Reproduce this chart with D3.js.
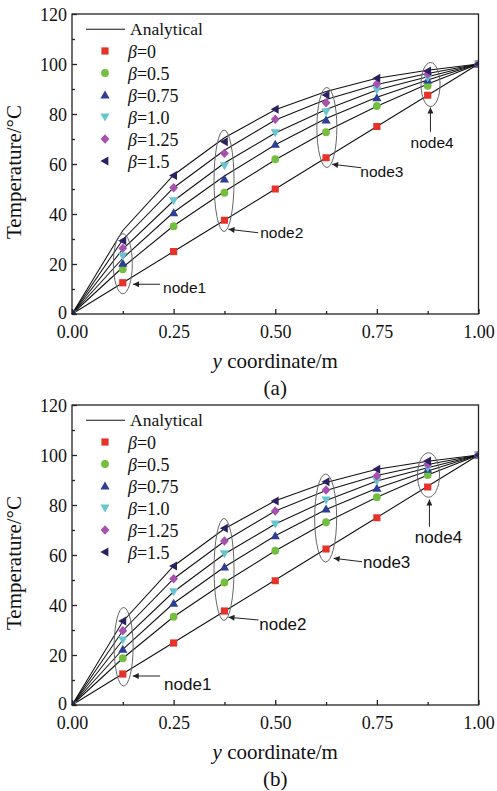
<!DOCTYPE html>
<html>
<head>
<meta charset="utf-8">
<script src="https://cdn.jsdelivr.net/npm/d3@7"></script>
<style>
html,body{margin:0;padding:0;background:#fff;}
svg{display:block;}
</style>
</head>
<body>
<svg id="chart" width="497" height="791"></svg>
<script>
// ---------- data ----------
const xNodes = [0, 0.125, 0.25, 0.375, 0.5, 0.625, 0.75, 0.875, 1.0];
const betaLabels = ["0", "0.5", "0.75", "1.0", "1.25", "1.5"];

// analytical solution (same curves in both panels)
const analyticalBeta0   = [0, 12.5, 25.0, 37.5, 50.0, 62.5, 75.0, 87.5, 100];
const analyticalBeta05  = [0, 18.7, 35.3, 49.0, 61.7, 73.1, 83.1, 92.0, 100];
const analyticalBeta075 = [0, 22.3, 40.7, 55.2, 67.7, 78.2, 86.7, 93.6, 100];
const analyticalBeta10  = [0, 26.0, 45.3, 60.4, 72.4, 81.8, 89.6, 94.9, 100];
const analyticalBeta125 = [0, 29.7, 50.5, 65.5, 77.6, 85.8, 91.8, 96.2, 100];
const analyticalBeta15  = [0, 33.4, 55.6, 70.5, 81.7, 89.0, 94.3, 97.5, 100];

// numerical results, panel (a)
const panelA_Beta0   = [0, 12.5, 25.0, 37.5, 50.0, 62.5, 75.0, 87.5, 100];
const panelA_Beta05  = [0, 17.9, 35.1, 48.5, 61.9, 72.7, 83.2, 91.3, 100];
const panelA_Beta075 = [0, 20.3, 40.5, 54.0, 67.9, 77.6, 86.5, 93.6, 100];
const panelA_Beta10  = [0, 23.2, 45.3, 59.3, 72.5, 80.9, 89.6, 94.5, 100];
const panelA_Beta125 = [0, 26.3, 50.5, 64.3, 77.9, 84.5, 92.0, 96.0, 100];
const panelA_Beta15  = [0, 29.3, 55.4, 68.9, 81.9, 87.6, 94.3, 97.2, 100];

// numerical results, panel (b)
const panelB_Beta0   = [0, 12.4, 24.8, 37.6, 49.7, 62.4, 74.9, 87.2, 100];
const panelB_Beta05  = [0, 18.7, 35.3, 49.0, 61.7, 73.1, 83.1, 92.0, 100];
const panelB_Beta075 = [0, 22.3, 40.7, 55.2, 67.7, 78.4, 86.7, 94.3, 100];
const panelB_Beta10  = [0, 26.0, 45.3, 60.5, 72.4, 82.0, 89.6, 94.9, 100];
const panelB_Beta125 = [0, 29.7, 50.5, 65.6, 77.6, 86.0, 91.6, 96.3, 100];
const panelB_Beta15  = [0, 33.6, 55.6, 70.7, 81.6, 89.3, 94.3, 97.6, 100];

const xTickValues = [0, 0.25, 0.5, 0.75, 1.0];
const xTickLabels = ["0.00", "0.25", "0.50", "0.75", "1.00"];
const xMinorTicks = [0.125, 0.375, 0.625, 0.875];
const yTickValues = [0, 20, 40, 60, 80, 100, 120];
const yTickLabels = ["0", "20", "40", "60", "80", "100", "120"];
const yMinorTicks = [10, 30, 50, 70, 90, 110];

const nodeNames = ["node1", "node2", "node3", "node4"];

// ---------- styles ----------
const colors = ["#e6332a", "#74bf3f", "#2d3e96", "#66c6cf", "#a650b0", "#2c2160"];
const shapes = ["square", "circle", "triUp", "triDown", "diamond", "triLeft"];
const serif = "'Liberation Serif','Times New Roman',serif";
const sans = "'Liberation Sans',Arial,sans-serif";

const analytical = [analyticalBeta0, analyticalBeta05, analyticalBeta075, analyticalBeta10, analyticalBeta125, analyticalBeta15];

const panels = [
  {
    top: 14, label: "(a)", nodeFont: 15.5,
    numeric: [panelA_Beta0, panelA_Beta05, panelA_Beta075, panelA_Beta10, panelA_Beta125, panelA_Beta15],
    ellipses: [ {cx:0.125, cy:20.1, rx:9.5, ryT:12.0}, {cx:0.374, cy:53.3, rx:10, ryT:20.3},
                {cx:0.627, cy:74.6, rx:10, ryT:16.0}, {cx:0.882, cy:91.8, rx:9.5, ryT:8.8} ],
    arrows: [ {x1:0.2167,t1:11.9,x2:0.1502,t2:11.9}, {x1:0.4581,t1:32.5,x2:0.385,t2:33.9},
              {x1:0.7118,t1:58.5,x2:0.6397,t2:59.9}, {x1:0.8818,t1:72.9,x2:0.8818,t2:82.6} ],
    texts: [ {x:0.2241,t:8.6,anchor:"start"}, {x:0.463,t:30.4,anchor:"start"},
             {x:0.7094,t:54.9,anchor:"start"}, {x:0.886,t:66.4,anchor:"middle"} ]
  },
  {
    top: 405, label: "(b)", nodeFont: 17,
    numeric: [panelB_Beta0, panelB_Beta05, panelB_Beta075, panelB_Beta10, panelB_Beta125, panelB_Beta15],
    ellipses: [ {cx:0.127, cy:23.3, rx:9.5, ryT:15.7}, {cx:0.374, cy:54.2, rx:10, ryT:20.4},
                {cx:0.624, cy:74.8, rx:11, ryT:17.6}, {cx:0.877, cy:92.0, rx:11, ryT:8.9} ],
    arrows: [ {x1:0.2167,t1:11.6,x2:0.1495,t2:11.6}, {x1:0.4589,t1:34.0,x2:0.385,t2:35.1},
              {x1:0.7136,t1:57.3,x2:0.6436,t2:58.7}, {x1:0.8793,t1:71.3,x2:0.8793,t2:82.2} ],
    texts: [ {x:0.2266,t:6.2,anchor:"start"}, {x:0.4606,t:30.0,anchor:"start"},
             {x:0.716,t:54.9,anchor:"start"}, {x:0.9015,t:64.9,anchor:"middle"} ]
  }
];

const L = 72, R = 478.5, H = 300;

function shapePath(type) {
  switch (type) {
    case "square": { const h = 3.6; return `M${-h},${-h}H${h}V${h}H${-h}Z`; }
    case "circle": { const r = 3.9; return `M${r},0A${r},${r} 0 1,1 ${-r},0A${r},${r} 0 1,1 ${r},0Z`; }
    case "triUp": return "M0,-4.6L4.6,3.4L-4.6,3.4Z";
    case "triDown": return "M0,4.6L4.6,-3.4L-4.6,-3.4Z";
    case "diamond": return "M0,-4.8L4.4,0L0,4.8L-4.4,0Z";
    case "triLeft": return "M-4.6,0L3.4,-4.6L3.4,4.6Z";
  }
}

const svg = d3.select("#chart");
svg.append("rect").attr("width", 497).attr("height", 791).attr("fill", "#fff");

const defs = svg.append("defs");
defs.append("marker").attr("id", "arrowhead")
  .attr("viewBox", "0 0 10 10").attr("refX", 10).attr("refY", 5)
  .attr("markerUnits", "userSpaceOnUse").attr("markerWidth", 7).attr("markerHeight", 6)
  .attr("orient", "auto")
  .append("path").attr("d", "M0,0L10,5L0,10Z").attr("fill", "#222");

panels.forEach((p, pi) => {
  const x = d3.scaleLinear().domain([0, 1]).range([L, R]);
  const y = d3.scaleLinear().domain([0, 120]).range([p.top + H, p.top]);
  const g = svg.append("g");

  const clipId = "clip" + pi;
  defs.append("clipPath").attr("id", clipId).append("rect")
    .attr("x", L).attr("y", p.top).attr("width", R - L).attr("height", H);

  // analytical lines
  const line = d3.line().x((d, i) => x(xNodes[i])).y(d => y(d));
  analytical.forEach(arr => {
    g.append("path").attr("d", line(arr)).attr("fill", "none")
      .attr("stroke", "#111").attr("stroke-width", 1.05);
  });

  // ellipses
  p.ellipses.forEach(e => {
    g.append("ellipse").attr("cx", x(e.cx)).attr("cy", y(e.cy))
      .attr("rx", e.rx).attr("ry", y(0) - y(e.ryT))
      .attr("fill", "none").attr("stroke", "#666").attr("stroke-width", 1);
  });

  // markers
  const mg = g.append("g").attr("clip-path", `url(#${clipId})`);
  p.numeric.forEach((arr, si) => {
    mg.selectAll(null).data(arr).enter().append("path")
      .attr("transform", (d, i) => `translate(${x(xNodes[i])},${y(d)})`)
      .attr("d", shapePath(shapes[si]))
      .attr("fill", colors[si]);
  });

  // axes frame
  g.append("rect").attr("x", L).attr("y", p.top).attr("width", R - L).attr("height", H)
    .attr("fill", "none").attr("stroke", "#222").attr("stroke-width", 1.3);

  // x axis ticks (inward)
  const xAxis = d3.axisBottom(x).tickValues(xTickValues).tickSize(-5)
    .tickFormat((d, i) => xTickLabels[i]).tickPadding(10);
  const gx = g.append("g").attr("transform", `translate(0,${p.top + H})`).call(xAxis);
  gx.select(".domain").remove();
  gx.selectAll(".tick line").attr("stroke", "#222").attr("stroke-width", 1.3);
  gx.selectAll(".tick text").attr("font-family", serif).attr("font-size", 18)
    .attr("fill", "#111").attr("dy", null).attr("y", 23.5);
  const xMinor = d3.axisBottom(x).tickValues(xMinorTicks).tickSize(-3).tickFormat("");
  const gxm = g.append("g").attr("transform", `translate(0,${p.top + H})`).call(xMinor);
  gxm.select(".domain").remove();
  gxm.selectAll(".tick line").attr("stroke", "#222").attr("stroke-width", 1.3);

  // y axis ticks (inward)
  const yAxis = d3.axisLeft(y).tickValues(yTickValues).tickSize(-5)
    .tickFormat((d, i) => yTickLabels[i]).tickPadding(6);
  const gy = g.append("g").attr("transform", `translate(${L},0)`).call(yAxis);
  gy.select(".domain").remove();
  gy.selectAll(".tick line").attr("stroke", "#222").attr("stroke-width", 1.3);
  gy.selectAll(".tick text").attr("font-family", serif).attr("font-size", 18)
    .attr("fill", "#111").attr("x", -5).attr("dy", null)
    .attr("y", d => d === 0 ? 4 : 6);
  const yMinor = d3.axisLeft(y).tickValues(yMinorTicks).tickSize(-3).tickFormat("");
  const gym = g.append("g").attr("transform", `translate(${L},0)`).call(yMinor);
  gym.select(".domain").remove();
  gym.selectAll(".tick line").attr("stroke", "#222").attr("stroke-width", 1.3);

  // axis titles
  g.append("text").attr("transform", `translate(21,${p.top + H / 2 + 8}) rotate(-90)`)
    .attr("text-anchor", "middle").attr("font-family", serif).attr("font-size", 21)
    .attr("fill", "#111").text("Temperature/°C");
  const xt = g.append("text").attr("x", (L + R) / 2).attr("y", p.top + H + 54)
    .attr("text-anchor", "middle").attr("font-family", serif).attr("font-size", 21).attr("fill", "#111");
  xt.append("tspan").attr("font-style", "italic").text("y");
  xt.append("tspan").text(" coordinate/m");
  g.append("text").attr("x", (L + R) / 2).attr("y", p.top + H + 81)
    .attr("text-anchor", "middle").attr("font-family", serif).attr("font-size", 21)
    .attr("fill", "#111").text(p.label);

  // legend
  const lg = g.append("g");
  lg.append("line").attr("x1", 86).attr("x2", 125).attr("y1", p.top + 15.3).attr("y2", p.top + 15.3)
    .attr("stroke", "#111").attr("stroke-width", 1.1);
  lg.append("text").attr("x", 130).attr("y", p.top + 21).attr("font-family", serif)
    .attr("font-size", 17.5).attr("fill", "#111").text("Analytical");
  betaLabels.forEach((b, i) => {
    const cy = p.top + 37 + i * 22;
    lg.append("path").attr("transform", `translate(105,${cy})`)
      .attr("d", shapePath(shapes[i])).attr("fill", colors[i]);
    const t = lg.append("text").attr("x", 128).attr("y", cy + 6.5)
      .attr("font-family", serif).attr("font-size", 18).attr("fill", "#111");
    t.append("tspan").attr("font-style", "italic").text("β");
    t.append("tspan").text("=" + b);
  });

  // node annotations
  p.arrows.forEach(a => {
    g.append("line").attr("x1", x(a.x1)).attr("y1", y(a.t1)).attr("x2", x(a.x2)).attr("y2", y(a.t2))
      .attr("stroke", "#222").attr("stroke-width", 1).attr("marker-end", "url(#arrowhead)");
  });
  p.texts.forEach((tx, i) => {
    g.append("text").attr("x", x(tx.x)).attr("y", y(tx.t)).attr("text-anchor", tx.anchor)
      .attr("font-family", sans).attr("font-size", p.nodeFont).attr("fill", "#111")
      .text(nodeNames[i]);
  });
});
</script>
</body>
</html>
